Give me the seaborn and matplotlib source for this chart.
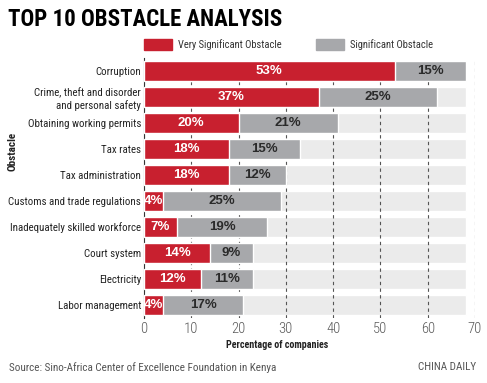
import matplotlib
matplotlib.use('Agg')
import matplotlib.pyplot as plt
import matplotlib.patches as mpatches
import seaborn as sns
import pandas as pd

# dados
obstacles = ['Corruption', 'Crime, theft and disorder\nand personal safety',
             'Obtaining working permits', 'Tax rates', 'Tax administration',
             'Customs and trade regulations', 'Inadequately skilled workforce',
             'Court system', 'Electricity', 'Labor management']
very_significant = [53, 37, 20, 18, 18, 4, 7, 14, 12, 4]
significant = [15, 25, 21, 15, 12, 25, 19, 9, 11, 17]
track = [68, 68, 68, 68, 68, 68, 68, 68, 68, 68]
x_ticks = [0, 10, 20, 30, 40, 50, 60, 70]

RED = '#C8202F'
GRAY = '#A7A8AB'
LIGHT = '#EBEBEB'
FONT = ['Roboto Condensed', 'DejaVu Sans']
LABEL_FONT = ['Liberation Sans', 'DejaVu Sans']

df = pd.DataFrame({'Obstacle': obstacles,
                   'very': very_significant,
                   'sig': significant,
                   'track': track})
df['total'] = df['very'] + df['sig']

sns.set_style('white')
plt.rcParams['font.family'] = FONT

fig = plt.figure(figsize=(4.87, 3.83), dpi=100)
ax = fig.add_axes([144 / 487, 1 - 318 / 383, (475 - 144) / 487, (318 - 58) / 383])

sns.barplot(data=df, x='track', y='Obstacle', color=LIGHT, saturation=1,
            width=0.76, orient='h', ax=ax, zorder=0.2)
sns.barplot(data=df, x='total', y='Obstacle', color=GRAY, saturation=1,
            width=0.76, orient='h', ax=ax, zorder=2)
sns.barplot(data=df, x='very', y='Obstacle', color=RED, saturation=1,
            width=0.76, orient='h', ax=ax, zorder=3)

# rótulos de porcentagem
for i, (v, s) in enumerate(zip(very_significant, significant)):
    ax.text(max(v / 2, 2.1), i, f'{v}%', ha='center', va='center', color='white',
            fontsize=9.5, fontweight='bold', family=LABEL_FONT, zorder=5)
    ax.text(v + s / 2, i, f'{s}%', ha='center', va='center', color='#2a2a2a',
            fontsize=9.5, fontweight='bold', family=LABEL_FONT, zorder=5)

ax.set_xlim(0, 70)
ax.set_ylim(9.5, -0.5)
ax.set_xticks(x_ticks)
ax.set_axisbelow(True)
ax.grid(axis='x', color='#555555', linestyle=(0, (3, 3)), linewidth=0.8)
ax.grid(axis='y', visible=False)
for side in ['top', 'right', 'bottom']:
    ax.spines[side].set_visible(False)
ax.spines['left'].set_color('#333333')
ax.spines['left'].set_linewidth(0.8)
ax.tick_params(axis='both', length=0)
ax.tick_params(axis='y', pad=2, labelsize=7.8, labelcolor='#222222')
ax.tick_params(axis='x', pad=3, labelsize=10.5, labelcolor='#5a5a5a')
for lab in ax.get_xticklabels():
    lab.set_fontweight('light')

ax.set_ylabel('')
ax.set_xlabel('Percentage of companies', fontsize=7.2, fontweight='bold', color='#222222')
ax.xaxis.set_label_coords((277 - 144) / (475 - 144), -0.085)

fig.text(12 / 487, 1 - 151 / 383, 'Obstacle', rotation=90, ha='center', va='center',
         fontsize=8, fontweight='bold', color='#222222')

handles = [mpatches.Patch(color=RED, label='Very Significant Obstacle'),
           mpatches.Patch(color=GRAY, label='Significant Obstacle')]
ax.legend(handles=handles, loc='lower left', bbox_to_anchor=(0, 1.03), ncol=2,
          frameon=False, borderaxespad=0, borderpad=0, handlelength=2.65,
          handleheight=1.15, handletextpad=0.55, columnspacing=3.3,
          prop={'size': 7.6}, labelcolor='#333333')

fig.text(8 / 487, 1 - 19 / 383, 'TOP 10 OBSTACLE ANALYSIS', ha='left', va='center',
         fontsize=16.5, fontweight='black', color='black')
fig.text(9 / 487, 1 - 368 / 383, 'Source: Sino-Africa Center of Excellence Foundation in Kenya',
         ha='left', va='center', fontsize=8, color='#555555')
fig.text(476 / 487, 1 - 367 / 383, 'CHINA DAILY', ha='right', va='center',
         fontsize=8, color='#555555')

fig.savefig('out.png', dpi=100)
